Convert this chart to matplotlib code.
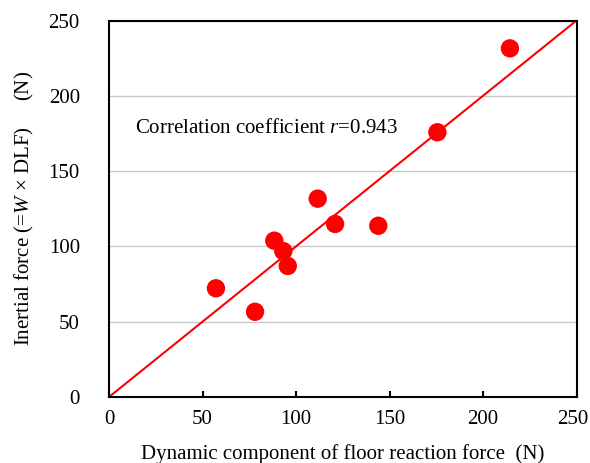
import numpy as np
import matplotlib.pyplot as plt
import matplotlib.transforms as mtransforms

plt.rcParams['font.family'] = ['Liberation Serif', 'DejaVu Serif']
plt.rcParams['mathtext.fontset'] = 'custom'
plt.rcParams['mathtext.rm'] = 'Liberation Serif'
plt.rcParams['mathtext.it'] = 'Liberation Serif:italic'

# measured points
floor_force = [57.2, 78.1, 88.4, 93.2, 95.6, 111.6, 120.9, 144.0, 175.6, 214.4]
inertial_force = [72.2, 56.6, 103.8, 96.9, 87.0, 131.7, 114.9, 113.7, 175.8, 231.5]
r_value = 0.943
ticks = [0, 50, 100, 150, 200, 250]

fig = plt.figure(figsize=(5.9, 4.63), dpi=100)
ax = fig.add_axes([109 / 590, 1 - 397 / 463, (576.5 - 109) / 590, (397 - 20.5) / 463])

ax.set_xlim(0, 250)
ax.set_ylim(0, 250)
ax.set_xticks(ticks)
ax.set_yticks(ticks)

# 1:1 line
ax.plot([0, 250], [0, 250], color='red', lw=1.5, zorder=2)
ax.scatter(floor_force, inertial_force, s=175, color='red', edgecolors='none', zorder=3)

ax.grid(axis='y', color='#c8c8c8', lw=1)
ax.set_axisbelow(True)
for sp in ax.spines.values():
    sp.set_linewidth(1.5)
    sp.set_color('black')

ax.tick_params(axis='x', direction='in', length=4, width=1.5, pad=9, labelsize=15)
ax.tick_params(axis='y', length=0, pad=21, labelsize=15)

# keep the last x tick label inside the figure
last = ax.get_xticklabels()[-1]
last.set_transform(last.get_transform() + mtransforms.ScaledTranslation(-4 / 100, 0, fig.dpi_scale_trans))

ax.set_xlabel('Dynamic component of floor reaction force  (N)', fontsize=15, labelpad=11)
ax.set_ylabel(r'Inertial force (=$\mathit{W}\,\times\,\mathrm{DLF}$)     (N)', fontsize=15, labelpad=9)

ax.text(14, 178, r'Correlation coefficient $\mathit{r}$=%.3f' % r_value, fontsize=15, va='center')

fig.savefig('out.png', dpi=100)
